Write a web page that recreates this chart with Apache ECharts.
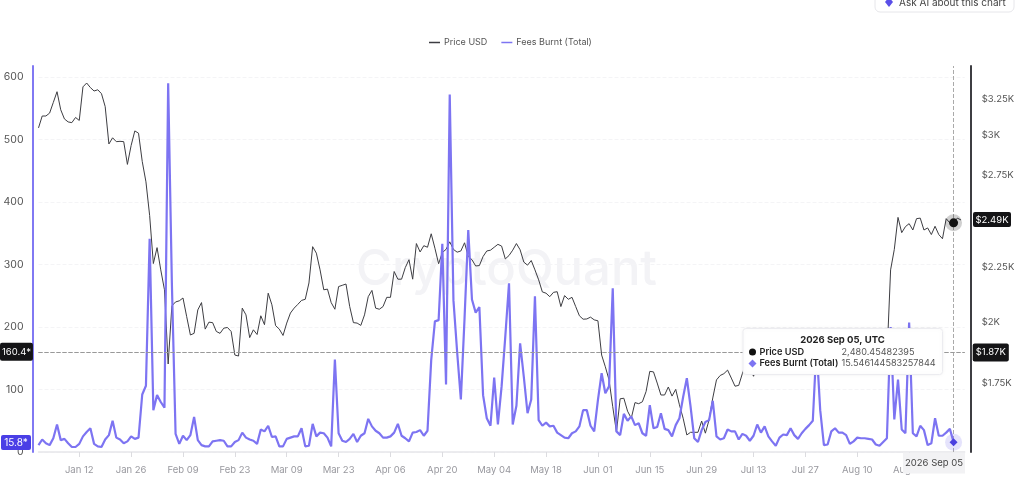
<!DOCTYPE html>
<html>
<head>
<meta charset="utf-8">
<style>html,body{margin:0;padding:0;background:#fff}#chart{width:1024px;height:478px}</style>
<script src="https://cdn.jsdelivr.net/npm/echarts@6/dist/echarts.min.js"></script>
</head>
<body>
<div id="chart"></div>
<script>
var priceUsd = [
    3050,3130,3130,3150,3224,3300,3173,3110,3090,3085,
    3120,3100,3335,3363,3330,3305,3314,3286,3195,2945,
    2985,2960,2962,2960,2817,2935,3030,3015,2835,2712,
    2520,2270,2350,2239,2144,1824,2070,2088,2093,2106,
    2022,1943,1950,2052,2085,1968,1998,1996,1958,1950,
    1972,1975,1958,1860,1856,2060,2030,1932,1965,1945,
    2026,1987,2128,2075,1983,1968,1941,1994,2038,2060,
    2077,2095,2100,2176,2355,2322,2239,2144,2147,2085,
    2055,2159,2165,2171,2067,1996,1994,1984,2030,2112,
    2141,2060,2055,2067,2109,2109,2231,2194,2194,2250,
    2289,2194,2371,2328,2360,2352,2422,2347,2269,2325,
    2341,2380,2341,2327,2333,2375,2305,2289,2258,2260,
    2305,2333,2337,2352,2367,2358,2293,2310,2337,2371,
    2339,2277,2262,2285,2239,2191,2134,2128,2112,2132,
    2135,2067,2117,2100,2109,2067,2026,2011,2012,2020,
    2008,2004,1860,1813,1762,1662,1573,1691,1693,1646,
    1621,1677,1673,1680,1718,1795,1793,1750,1705,1705,
    1735,1701,1726,1669,1621,1563,1572,1572,1572,1611,
    1569,1615,1694,1762,1779,1786,1800,1769,1738,1741,
    1787,1830,1810,1776,1815,1840,1860,1880,1850,1870,
    1895,1910,1880,1865,1890,1905,1920,1900,1880,1860,
    1885,1900,1875,1850,1870,1890,1905,1880,1860,1845,
    1870,1885,1860,1850,1870,1880,1860,1850,1845,1845,
    2239,2341,2510,2428,2460,2476,2442,2503,2506,2442,
    2453,2418,2462,2418,2396,2503,2480,2480.45,2506,2496
];
var feesBurnt = [
    11,20,14,11,22,44,19,21,14,8,
    8,13,25,32,38,13,9,8,20,27,
    50,23,20,14,17,25,21,23,92,106,
    341,67,91,80,71,590,270,29,13,26,
    19,27,56,19,11,9,9,17,18,19,
    18,9,9,16,19,31,23,20,18,13,
    36,33,42,24,25,9,9,21,23,25,
    25,38,9,10,45,25,31,30,23,9,
    148,30,18,16,21,29,16,26,30,53,
    41,34,30,23,23,25,31,45,26,22,
    17,31,32,35,26,34,147,209,211,333,
    108,572,243,160,84,214,355,244,223,232,
    91,54,42,119,44,105,185,270,44,74,
    174,120,62,84,249,51,42,47,41,42,
    31,27,23,22,30,33,41,67,67,42,
    33,83,126,94,105,262,33,27,61,50,
    57,43,46,30,26,75,38,40,62,37,
    35,25,43,54,88,118,73,22,16,35,
    48,51,82,25,20,22,36,33,33,20,
    29,26,18,26,44,31,41,25,17,10,
    23,28,27,38,27,21,30,37,43,50,
    170,67,11,12,33,38,31,31,27,13,
    17,23,22,22,21,20,12,10,16,22,
    200,52,116,36,30,207,30,25,42,35,
    11,14,54,26,26,31,37,15.55
];
var priceTicks = [1750, 2000, 2250, 2750, 3000, 3250];

// daily categories, 2026 Jan 01 to Sep 08
var monthNames = ['Jan','Feb','Mar','Apr','May','Jun','Jul','Aug','Sep'];
var days = [];
for (var d = 0; d < 251; d++) {
    var dt = new Date(Date.UTC(2026, 0, 1 + d));
    var dd = dt.getUTCDate();
    days.push(monthNames[dt.getUTCMonth()] + ' ' + (dd < 10 ? '0' + dd : dd));
}

var hoverIndex = 247;
var hoverFees = 160.4, hoverPrice = 1870;
var purple = '#7d74f2', ink = '#3d3d42';

function everyTwoWeeks(index) {
    return (index - 11) % 14 === 0;
}

var myChart = echarts.init(document.getElementById('chart'));
var chartOption = {
    animation: false,
    textStyle: { fontFamily: 'Inter' },
    legend: {
        left: 424, top: 33, icon: 'rect', itemWidth: 11, itemHeight: 1.5, itemGap: 14,
        textStyle: { fontSize: 9, color: '#555', fontFamily: 'Inter', padding: [0, 0, 0, -1] },
        data: ['Price USD', 'Fees Burnt (Total)']
    },
    grid: { left: 38.5, right: 59.3, top: 66, bottom: 26 },
    xAxis: {
        type: 'category',
        boundaryGap: false,
        data: days,
        axisLine: { lineStyle: { color: '#e6e6ea', width: 1.5 } },
        axisTick: { interval: everyTwoWeeks, length: 5, lineStyle: { color: '#dcdce0' } },
        axisLabel: { interval: everyTwoWeeks, color: '#98989e', fontSize: 9.5, margin: 13, hideOverlap: false, showMaxLabel: false },
        splitLine: { show: false },
        axisPointer: {
            show: true, status: 'show', value: hoverIndex, triggerTooltip: false, z: 1,
            lineStyle: { color: '#aaa', type: 'dashed', width: 1 },
            label: { show: false }
        }
    },
    yAxis: [{
        type: 'value', position: 'left', offset: 6, min: 0, max: 617.6, interval: 100,
        axisLine: { show: true, lineStyle: { color: '#8179f3', width: 2 } },
        axisTick: { show: false },
        axisLabel: { color: '#555', fontSize: 10.5, margin: 9, showMaxLabel: false },
        splitLine: { showMaxLine: false, lineStyle: { color: '#f4f4f6', type: 'dashed' } },
        axisPointer: {
            show: true, status: 'show', value: hoverFees, triggerTooltip: false,
            lineStyle: { color: '#999', type: 'dashed', width: 1 },
            label: { show: true, formatter: '160.4*', backgroundColor: '#141416', color: '#fff', fontSize: 9.5, padding: [4, 2, 4, 2], margin: 1, borderRadius: 2, shadowBlur: 0 }
        }
    }, {
        type: 'log', position: 'right', offset: 6, logBase: 10, min: 1506, max: 3490,
        axisLine: { show: true, onZero: false, lineStyle: { color: ink, width: 2 } },
        axisTick: { show: false },
        axisLabel: {
            customValues: priceTicks, color: '#555', fontSize: 9.5, margin: 11,
            formatter: function (v) { return '$' + (v / 1000) + 'K'; }
        },
        splitLine: { show: false },
        axisPointer: {
            show: true, status: 'show', value: hoverPrice, triggerTooltip: false,
            lineStyle: { color: '#999', type: 'dashed', width: 1 },
            label: { show: true, formatter: '$1.87K', backgroundColor: '#141416', color: '#fff', fontSize: 9.5, padding: [4, 3, 4, 3], margin: 2, borderRadius: 2, shadowBlur: 0 }
        }
    }],
    series: [{
        name: 'Price USD',
        type: 'line',
        yAxisIndex: 1,
        data: priceUsd,
        showSymbol: false,
        lineStyle: { color: ink, width: 1 },
        itemStyle: { color: ink },
        markPoint: {
            silent: true, animation: false, label: { show: false },
            data: [
                { coord: [hoverIndex, 2480.45], symbol: 'circle', symbolSize: 17, itemStyle: { color: 'rgba(20,20,20,0.2)' } },
                { coord: [hoverIndex, 2480.45], symbol: 'circle', symbolSize: 9, itemStyle: { color: '#111' } }
            ]
        }
    }, {
        name: 'Fees Burnt (Total)',
        type: 'line',
        yAxisIndex: 0,
        data: feesBurnt,
        showSymbol: false,
        lineStyle: { color: purple, width: 2.2 },
        itemStyle: { color: purple },
        markPoint: {
            silent: true, animation: false, label: { show: false },
            data: [
                { coord: [hoverIndex, 15.55], symbol: 'circle', symbolSize: 17, itemStyle: { color: 'rgba(125,116,242,0.2)' } },
                { coord: [hoverIndex, 15.55], symbol: 'diamond', symbolSize: 8, itemStyle: { color: '#4a3fe0' } }
            ]
        }
    }],
    graphic: [
        // watermark
        { type: 'text', z: 0, silent: true, style: { x: 356, y: 270, text: 'CryptoQuant', fill: '#f3f3f6', font: '500 49px Inter', verticalAlign: 'middle' } },
        // last value tags
        { type: 'rect', z: 100, shape: { x: 1, y: 435, width: 30, height: 15, r: 2 }, style: { fill: '#4a3fe6' } },
        { type: 'text', z: 101, style: { x: 16, y: 442.7, text: '15.8*', fill: '#fff', font: '10px Inter', align: 'center', verticalAlign: 'middle' } },
        { type: 'rect', z: 100, shape: { x: 973, y: 212, width: 38, height: 15, r: 2 }, style: { fill: '#141416' } },
        { type: 'text', z: 101, style: { x: 992, y: 219.7, text: '$2.49K', fill: '#fff', font: '9.5px Inter', align: 'center', verticalAlign: 'middle' } },
        // date tag under the crosshair
        { type: 'rect', z: 100, shape: { x: 903, y: 452.5, width: 62, height: 21 }, style: { fill: '#f2f2f4' } },
        { type: 'text', z: 101, style: { x: 934, y: 463, text: '2026 Sep 05', fill: '#444', font: '9.5px Inter', align: 'center', verticalAlign: 'middle' } },
        // hover box
        { type: 'rect', z: 100, shape: { x: 743, y: 328.5, width: 199.5, height: 46, r: 3 }, style: { fill: '#fff', stroke: '#ececf0', lineWidth: 1, shadowBlur: 4, shadowColor: 'rgba(0,0,0,0.06)' } },
        { type: 'text', z: 101, style: { x: 842.5, y: 340.3, text: '2026 Sep 05, UTC', fill: '#222', font: '700 9.5px Inter', align: 'center', verticalAlign: 'middle' } },
        { type: 'circle', z: 101, shape: { cx: 752.5, cy: 352, r: 3.5 }, style: { fill: '#111' } },
        { type: 'text', z: 101, style: { x: 759.5, y: 352, text: 'Price USD', fill: '#222', font: '600 9.2px Inter', verticalAlign: 'middle' } },
        { type: 'text', z: 101, style: { x: 841.5, y: 352, text: '2,480.45482395', fill: '#555', font: '9.1px Inter', verticalAlign: 'middle' } },
        { type: 'polygon', z: 101, shape: { points: [[752.5, 359.5], [756.5, 363.5], [752.5, 367.5], [748.5, 363.5]] }, style: { fill: purple } },
        { type: 'text', z: 101, style: { x: 759.5, y: 363.5, text: 'Fees Burnt (Total)', fill: '#222', font: '600 9.2px Inter', verticalAlign: 'middle' } },
        { type: 'text', z: 101, style: { x: 841.5, y: 363.5, text: '15.546144583257844', fill: '#555', font: '9.1px Inter', verticalAlign: 'middle' } },
        // button cut off by the top of the page
        { type: 'rect', z: 100, shape: { x: 875, y: -12, width: 139, height: 24, r: 5 }, style: { fill: '#fff', stroke: '#e6e6ea', lineWidth: 1 } },
        { type: 'polygon', z: 101, shape: { points: [[889, -3], [893, 2], [889, 7], [885, 2]] }, style: { fill: '#5a4fe8' } },
        { type: 'text', z: 101, style: { x: 899, y: 3, text: 'Ask AI about this chart', fill: '#444', font: '10px Inter', verticalAlign: 'middle' } }
    ]
};
myChart.setOption(chartOption);
</script>
</body>
</html>
